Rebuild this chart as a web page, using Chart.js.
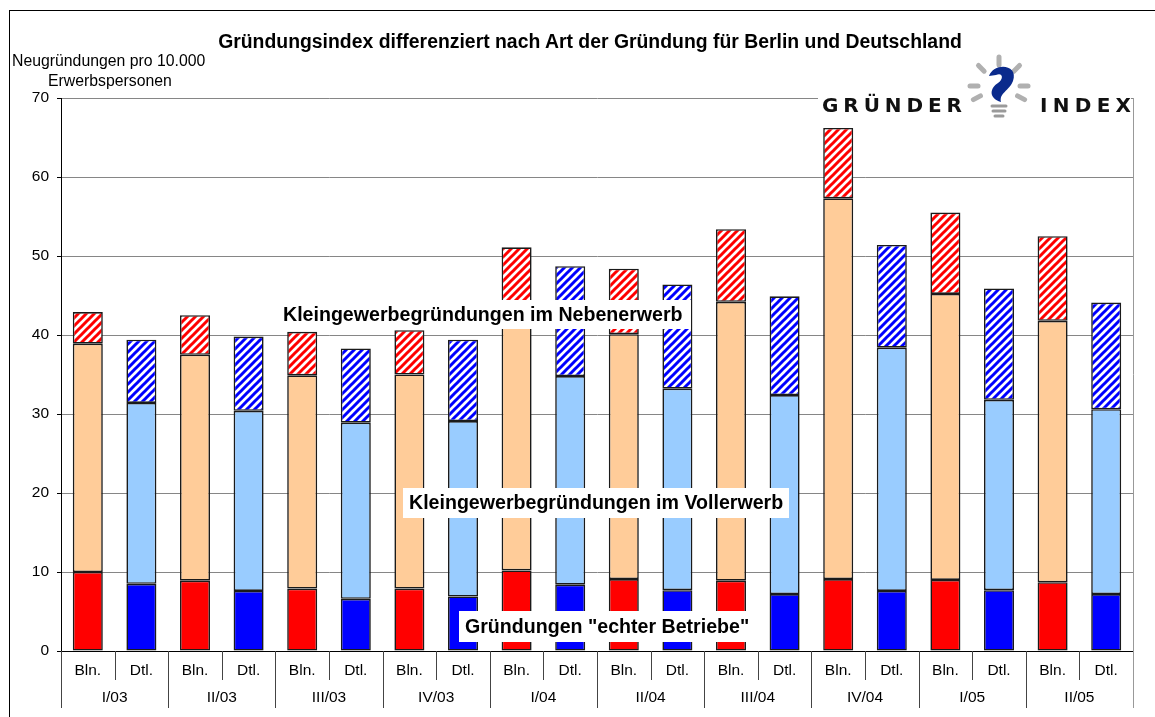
<!DOCTYPE html>
<html lang="de">
<head>
<meta charset="utf-8">
<title>Gründungsindex</title>
<script src="https://cdn.jsdelivr.net/npm/chart.js@4.4.1/dist/chart.umd.min.js"></script>
<style>
  html, body { margin: 0; padding: 0; background: #fff; }
  body { width: 1155px; height: 717px; position: relative; overflow: hidden;
         font-family: "Liberation Sans", Arial, sans-serif; color: #000; }
  #frame { position: absolute; left: 9px; top: 10px; width: 1200px; height: 800px;
           border-left: 1px solid #000; border-top: 1px solid #000; }
  #chart { position: absolute; left: 0; top: 0; }
  .txt { position: absolute; white-space: nowrap; }
  #title { left: 0; width: 1180px; top: 30px; text-align: center; font-weight: bold; font-size: 19.4px; }
  #ytitle1 { left: 12px; top: 52px; font-size: 15.8px; }
  #ytitle2 { left: 48px; top: 72px; font-size: 15.8px; }
</style>
</head>
<body>
<div id="frame"></div>
<canvas id="chart" width="1155" height="717"></canvas>
<div class="txt" id="title">Gründungsindex differenziert nach Art der Gründung für Berlin und Deutschland</div>
<div class="txt" id="ytitle1">Neugründungen pro 10.000</div>
<div class="txt" id="ytitle2">Erwerbspersonen</div>
<script>
// Quarters and the two regions shown per quarter
const quarters = ["I/03", "II/03", "III/03", "IV/03", "I/04", "II/04", "III/04", "IV/04", "I/05", "II/05"];
const regions  = ["Bln.", "Dtl."];

// Gründungen "echter Betriebe"
const echtBln = [10.0, 8.9, 7.9, 7.9, 10.2, 9.1, 8.9, 9.1, 9.0, 8.7];
const echtDtl = [8.5, 7.6, 6.6, 6.9, 8.4, 7.7, 7.2, 7.6, 7.7, 7.2];
// Kleingewerbegründungen im Vollerwerb
const vollBln = [28.9, 28.6, 27.0, 27.1, 31.8, 31.0, 35.3, 48.2, 36.2, 33.1];
const vollDtl = [22.9, 22.8, 22.3, 22.2, 26.4, 25.5, 25.2, 30.8, 24.1, 23.4];
// Kleingewerbegründungen im Nebenerwerb
const nebenBln = [4.0, 5.0, 5.5, 5.6, 9.1, 8.3, 9.2, 8.9, 10.3, 10.7];
const nebenDtl = [8.0, 9.4, 9.4, 10.3, 13.9, 13.2, 12.5, 13.0, 14.1, 13.5];

const yTicks = [0, 10, 20, 30, 40, 50, 60, 70];

const COLORS = {
    red:       "#FF0000",
    blue:      "#0000FF",
    peach:     "#FFCC99",
    lightBlue: "#99CCFF",
    border:    "#1a1a1a",
    grid:      "#868686",
};
const FONT = "'Liberation Sans', Arial, sans-serif";

// Bln./Dtl. pairs side by side
const interleave = (a, b) => quarters.flatMap((q, i) => [a[i], b[i]]);
const labels = quarters.flatMap(q => regions.map(r => r + " " + q));
const pair = (bln, dtl) => quarters.flatMap(() => [bln, dtl]);

// Diagonal stripe fill for the Nebenerwerb segments
function stripes(color) {
    const s = 8;
    const c = document.createElement("canvas");
    c.width = s; c.height = s;
    const g = c.getContext("2d");
    g.fillStyle = "#fff";
    g.fillRect(0, 0, s, s);
    g.strokeStyle = color;
    g.lineWidth = 3;
    g.beginPath();
    g.moveTo(-2, s + 2); g.lineTo(s + 2, -2);
    g.moveTo(-2, 2);     g.lineTo(2, -2);
    g.moveTo(s - 2, s + 2); g.lineTo(s + 2, s - 2);
    g.stroke();
    return g.createPattern(c, "repeat");
}

const ctx = document.getElementById("chart").getContext("2d");

const barStyle = {
    borderColor: COLORS.border,
    borderWidth: 1.6,
    borderSkipped: false,
    barPercentage: 0.56,
    categoryPercentage: 1.0,
};

// Category labels, dividers, in-chart captions and logo
const decorPlugin = {
    id: "decor",
    afterDatasetsDraw(chart) {
        const { ctx, chartArea: a } = chart;
        const catW = (a.right - a.left) / labels.length;
        const bottom = a.bottom;

        ctx.save();
        // dividers below the axis
        for (let i = 0; i <= labels.length; i++) {
            const x = Math.round(a.left + i * catW) + 0.5;
            ctx.strokeStyle = i === labels.length ? "#999" : "#444";
            ctx.lineWidth = 1;
            ctx.beginPath();
            ctx.moveTo(x, bottom);
            ctx.lineTo(x, i % 2 === 0 ? bottom + 57 : bottom + 29);
            ctx.stroke();
        }
        // right edge of plot
        ctx.strokeStyle = "#999";
        ctx.beginPath();
        ctx.moveTo(Math.round(a.right) + 0.5, a.top);
        ctx.lineTo(Math.round(a.right) + 0.5, bottom);
        ctx.stroke();

        ctx.fillStyle = "#000";
        ctx.font = "15.5px " + FONT;
        ctx.textAlign = "center";
        ctx.textBaseline = "middle";
        labels.forEach((l, i) => {
            ctx.fillText(regions[i % 2], a.left + (i + 0.5) * catW, bottom + 20);
        });
        quarters.forEach((q, i) => {
            ctx.fillText(q, a.left + (2 * i + 1) * catW, bottom + 47);
        });

        // captions on white boxes
        const captions = [
            { text: "Kleingewerbegründungen im Nebenerwerb", x: 277, y: 300, w: 414, h: 29 },
            { text: "Kleingewerbegründungen im Vollerwerb",  x: 403, y: 488, w: 386, h: 30 },
            { text: "Gründungen \"echter Betriebe\"",         x: 459, y: 611, w: 310, h: 31 },
        ];
        ctx.font = "bold 19.6px " + FONT;
        ctx.textAlign = "left";
        captions.forEach(c => {
            ctx.fillStyle = "#fff";
            ctx.fillRect(c.x, c.y, c.w, c.h);
            ctx.fillStyle = "#000";
            ctx.fillText(c.text, c.x + 6, c.y + c.h / 2 + 1);
        });
        ctx.restore();
    },
    afterDraw(chart) {
        const ctx = chart.ctx;
        ctx.save();
        ctx.fillStyle = "#fff";
        ctx.fillRect(818, 90, 313, 25);

        // spaced-out logo words
        const spaced = (word, x0, x1, base) => {
            ctx.font = "bold 20px 'DejaVu Sans', sans-serif";
            ctx.textAlign = "left";
            ctx.textBaseline = "alphabetic";
            const ws = [...word].map(ch => ctx.measureText(ch).width);
            const total = ws.reduce((s, w) => s + w, 0);
            const gap = (x1 - x0 - total) / (word.length - 1);
            let x = x0;
            [...word].forEach((ch, i) => { ctx.fillText(ch, x, base); x += ws[i] + gap; });
        };
        ctx.fillStyle = "#111";
        spaced("GRÜNDER", 822, 962, 112);
        spaced("INDEX", 1040, 1131, 112);

        // light bulb: rays, blue swoosh, screw base
        const cx = 999, cy = 86;
        ctx.strokeStyle = "#b0b0b0";
        ctx.lineWidth = 5;
        ctx.lineCap = "round";
        [-90, -135, -45, 180, 0, 152, 28].forEach(deg => {
            const r = deg * Math.PI / 180;
            ctx.beginPath();
            ctx.moveTo(cx + Math.cos(r) * 21, cy + Math.sin(r) * 21);
            ctx.lineTo(cx + Math.cos(r) * 29, cy + Math.sin(r) * 29);
            ctx.stroke();
        });
        ctx.fillStyle = "#0a2a8c";
        ctx.beginPath();
        ctx.moveTo(989, 76);
        ctx.bezierCurveTo(994, 62, 1019, 64, 1013, 81);
        ctx.bezierCurveTo(1009, 91, 999, 93, 1001, 102);
        ctx.bezierCurveTo(988, 98, 990, 88, 998, 83);
        ctx.bezierCurveTo(1004, 79, 1003, 72, 996, 75);
        ctx.closePath();
        ctx.fill();
        ctx.strokeStyle = "#9a9a9a";
        ctx.lineWidth = 3;
        [[106, 7], [111, 6], [116, 4]].forEach(([y, hw]) => {
            ctx.beginPath();
            ctx.moveTo(cx - hw, y); ctx.lineTo(cx + hw, y);
            ctx.stroke();
        });
        ctx.restore();
    }
};

new Chart(ctx, {
    type: "bar",
    data: {
        labels,
        datasets: [
            { label: "Gründungen \"echter Betriebe\"", data: interleave(echtBln, echtDtl),
              backgroundColor: pair(COLORS.red, COLORS.blue), ...barStyle },
            { label: "Kleingewerbegründungen im Vollerwerb", data: interleave(vollBln, vollDtl),
              backgroundColor: pair(COLORS.peach, COLORS.lightBlue), ...barStyle },
            { label: "Kleingewerbegründungen im Nebenerwerb", data: interleave(nebenBln, nebenDtl),
              backgroundColor: pair(stripes(COLORS.red), stripes(COLORS.blue)), ...barStyle },
        ]
    },
    options: {
        responsive: false,
        animation: false,
        layout: { padding: { top: 98, right: 22, bottom: 66, left: 0 } },
        scales: {
            x: { stacked: true, display: false },
            y: {
                stacked: true,
                min: 0, max: 70,
                afterBuildTicks(scale) { scale.ticks = yTicks.map(v => ({ value: v })); },
                afterFit(scale) { scale.width = 61; },
                ticks: { color: "#000", font: { family: FONT, size: 15.5 }, padding: 8 },
                grid: {
                    color: ctx => ctx.tick && ctx.tick.value === 0 ? "#000" : COLORS.grid,
                    tickColor: "#000",
                    tickLength: 4,
                },
                border: { color: "#000", width: 1 },
            }
        },
        plugins: { legend: { display: false }, tooltip: { enabled: false } }
    },
    plugins: [decorPlugin]
});
</script>
</body>
</html>
